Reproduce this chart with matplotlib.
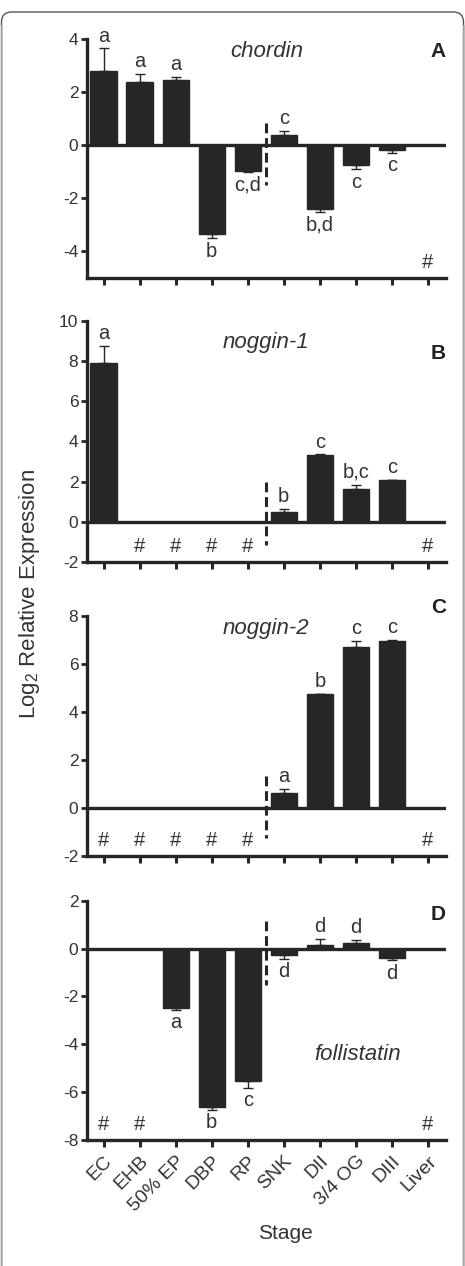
import numpy as np
import matplotlib
matplotlib.use('Agg')
import matplotlib.pyplot as plt
from matplotlib.patches import FancyBboxPatch
from matplotlib.lines import Line2D

plt.rcParams['font.family'] = ['Liberation Sans', 'DejaVu Sans']
plt.rcParams['mathtext.fontset'] = 'custom'
plt.rcParams['mathtext.rm'] = 'Liberation Sans'
plt.rcParams['axes.unicode_minus'] = False

nan = np.nan

# stages on the x axis
stages = ['EC', 'EHB', '50% EP', 'DBP', 'RP', 'SNK', 'DII', '3/4 OG', 'DIII', 'Liver']

# log2 relative expression (mean) and error, nan = not detected (#)
chordin_mean = [2.8, 2.37, 2.47, -3.36, -0.97, 0.39, -2.4, -0.75, -0.17, nan]
chordin_err = [0.85, 0.32, 0.1, 0.14, 0.05, 0.16, 0.1, 0.15, 0.12, nan]
chordin_sig = ['a', 'a', 'a', 'b', 'c,d', 'c', 'b,d', 'c', 'c', '#']

noggin1_mean = [7.9, nan, nan, nan, nan, 0.47, 3.33, 1.63, 2.06, nan]
noggin1_err = [0.85, nan, nan, nan, nan, 0.17, 0.03, 0.22, 0.03, nan]
noggin1_sig = ['a', '#', '#', '#', '#', 'b', 'c', 'b,c', 'c', '#']

noggin2_mean = [nan, nan, nan, nan, nan, 0.6, 4.72, 6.71, 6.96, nan]
noggin2_err = [nan, nan, nan, nan, nan, 0.18, 0.03, 0.23, 0.03, nan]
noggin2_sig = ['#', '#', '#', '#', '#', 'a', 'b', 'c', 'c', '#']

follistatin_mean = [nan, nan, -2.48, -6.6, -5.52, -0.27, 0.17, 0.24, -0.38, nan]
follistatin_err = [nan, nan, 0.08, 0.14, 0.3, 0.16, 0.23, 0.11, 0.11, nan]
follistatin_sig = ['#', '#', 'a', 'b', 'c', 'd', 'd', 'd', 'd', '#']

genes = ['chordin', 'noggin-1', 'noggin-2', 'follistatin']
panel_tags = ['A', 'B', 'C', 'D']
means = [chordin_mean, noggin1_mean, noggin2_mean, follistatin_mean]
errs = [chordin_err, noggin1_err, noggin2_err, follistatin_err]
sigs = [chordin_sig, noggin1_sig, noggin2_sig, follistatin_sig]
ylims = [(-5, 4), (-2, 10), (-2, 8), (-8, 2)]
yticks = [[-4, -2, 0, 2, 4], [-2, 0, 2, 4, 6, 8, 10], [-2, 0, 2, 4, 6, 8],
          [-8, -6, -4, -2, 0, 2]]
divider_spans = [(0.85, -1.5), (2.0, -1.16), (1.33, -1.28), (1.14, -1.5)]

# layout (figure fractions)
axes_rects = [
    [0.1871, 0.7804, 0.772, 0.1888],
    [0.1871, 0.5561, 0.772, 0.1904],
    [0.1871, 0.3241, 0.772, 0.1896],
    [0.1871, 0.0995, 0.772, 0.1890],
]
gene_pos = [(0.501, 0.947), (0.499, 0.912), (0.499, 0.9475), (0.753, 0.359)]
tag_pos = [(0.979, 0.946), (0.979, 0.863), (0.979, 1.035), (0.979, 0.943)]

bar_color = '#262626'
txt_color = '#333333'

fig = plt.figure(figsize=(4.65, 12.66), dpi=100)

x = np.arange(len(stages))
for k in range(4):
    ax = fig.add_axes(axes_rects[k])
    m = np.array(means[k], dtype=float)
    e = np.array(errs[k], dtype=float)
    ok = ~np.isnan(m)
    ax.bar(x[ok], m[ok], width=0.73, color=bar_color, edgecolor=bar_color, zorder=2)
    for i in x[ok]:
        if m[i] >= 0:
            ax.errorbar(i, m[i], yerr=[[0], [e[i]]], fmt='none', ecolor=bar_color,
                        elinewidth=1, capsize=3.5, capthick=1, zorder=1)
        else:
            ax.errorbar(i, m[i], yerr=[[e[i]], [0]], fmt='none', ecolor=bar_color,
                        elinewidth=1, capsize=3.5, capthick=1, zorder=1)
    ymin, ymax = ylims[k]
    ax.axhline(0, color=bar_color, lw=2.4, zorder=3)
    top, bot = divider_spans[k]
    ax.plot([4.5, 4.5], [top, bot], color=bar_color, lw=2.2, ls=(0, (3.2, 1.6)), zorder=4)

    for i, s in enumerate(sigs[k]):
        if s == '#':
            ax.annotate('#', (i, ymin), xytext=(0, 11), textcoords='offset points',
                        ha='center', va='center', fontsize=14.5, color=txt_color)
        elif m[i] >= 0:
            ax.annotate(s, (i, m[i] + e[i]), xytext=(0, 2), textcoords='offset points',
                        ha='center', va='bottom', fontsize=14.5, color=txt_color)
        else:
            ax.annotate(s, (i, m[i] - e[i]), xytext=(0, -2.5), textcoords='offset points',
                        ha='center', va='top', fontsize=14.5, color=txt_color)

    ax.text(gene_pos[k][0], gene_pos[k][1], genes[k], transform=ax.transAxes,
            ha='center', va='center', fontsize=16, style='italic', color=txt_color)
    ax.text(tag_pos[k][0], tag_pos[k][1], panel_tags[k], transform=ax.transAxes,
            ha='center', va='center', fontsize=15, fontweight='bold', color='#222222')

    ax.set_xlim(-0.46, 9.5)
    ax.set_ylim(ymin, ymax)
    ax.set_yticks(yticks[k])
    ax.set_xticks(x)
    if k == 3:
        ax.set_xticklabels(stages, rotation=45, ha='right', rotation_mode='anchor',
                           fontsize=14, color=txt_color)
    else:
        ax.set_xticklabels([])
    for side in ['top', 'right']:
        ax.spines[side].set_visible(False)
    for side in ['left', 'bottom']:
        ax.spines[side].set_linewidth(2.4)
        ax.spines[side].set_color(bar_color)
    ax.tick_params(axis='x', direction='out', length=5, width=2.2, color=bar_color, pad=4)
    ax.tick_params(axis='y', direction='out', length=4.3, width=2.0, color=bar_color,
                   labelsize=12.5, labelcolor=txt_color, pad=2)
    ax.patch.set_visible(False)

fig.text(0.0645, 0.531, 'Log$_2$ Relative Expression', rotation=90, ha='center',
         va='center', fontsize=16, color=txt_color)
fig.text(0.614, 0.0253, 'Stage', ha='center', va='center', fontsize=15, color=txt_color)

# rounded frame around the figure
frame = FancyBboxPatch((1.5, -30), 462, 1254 + 30, boxstyle='round,pad=0,rounding_size=10',
                       transform=None, facecolor='none', edgecolor='#555555', lw=1.0)
fig.patches.append(frame)
fig.lines.append(Line2D([1.5, 1.5], [-10, 1240], transform=None, color='#b5b5b5', lw=1.2))
fig.lines.append(Line2D([463.5, 463.5], [-10, 1240], transform=None, color='#b5b5b5', lw=1.2))

fig.savefig('out.png', dpi=100)
